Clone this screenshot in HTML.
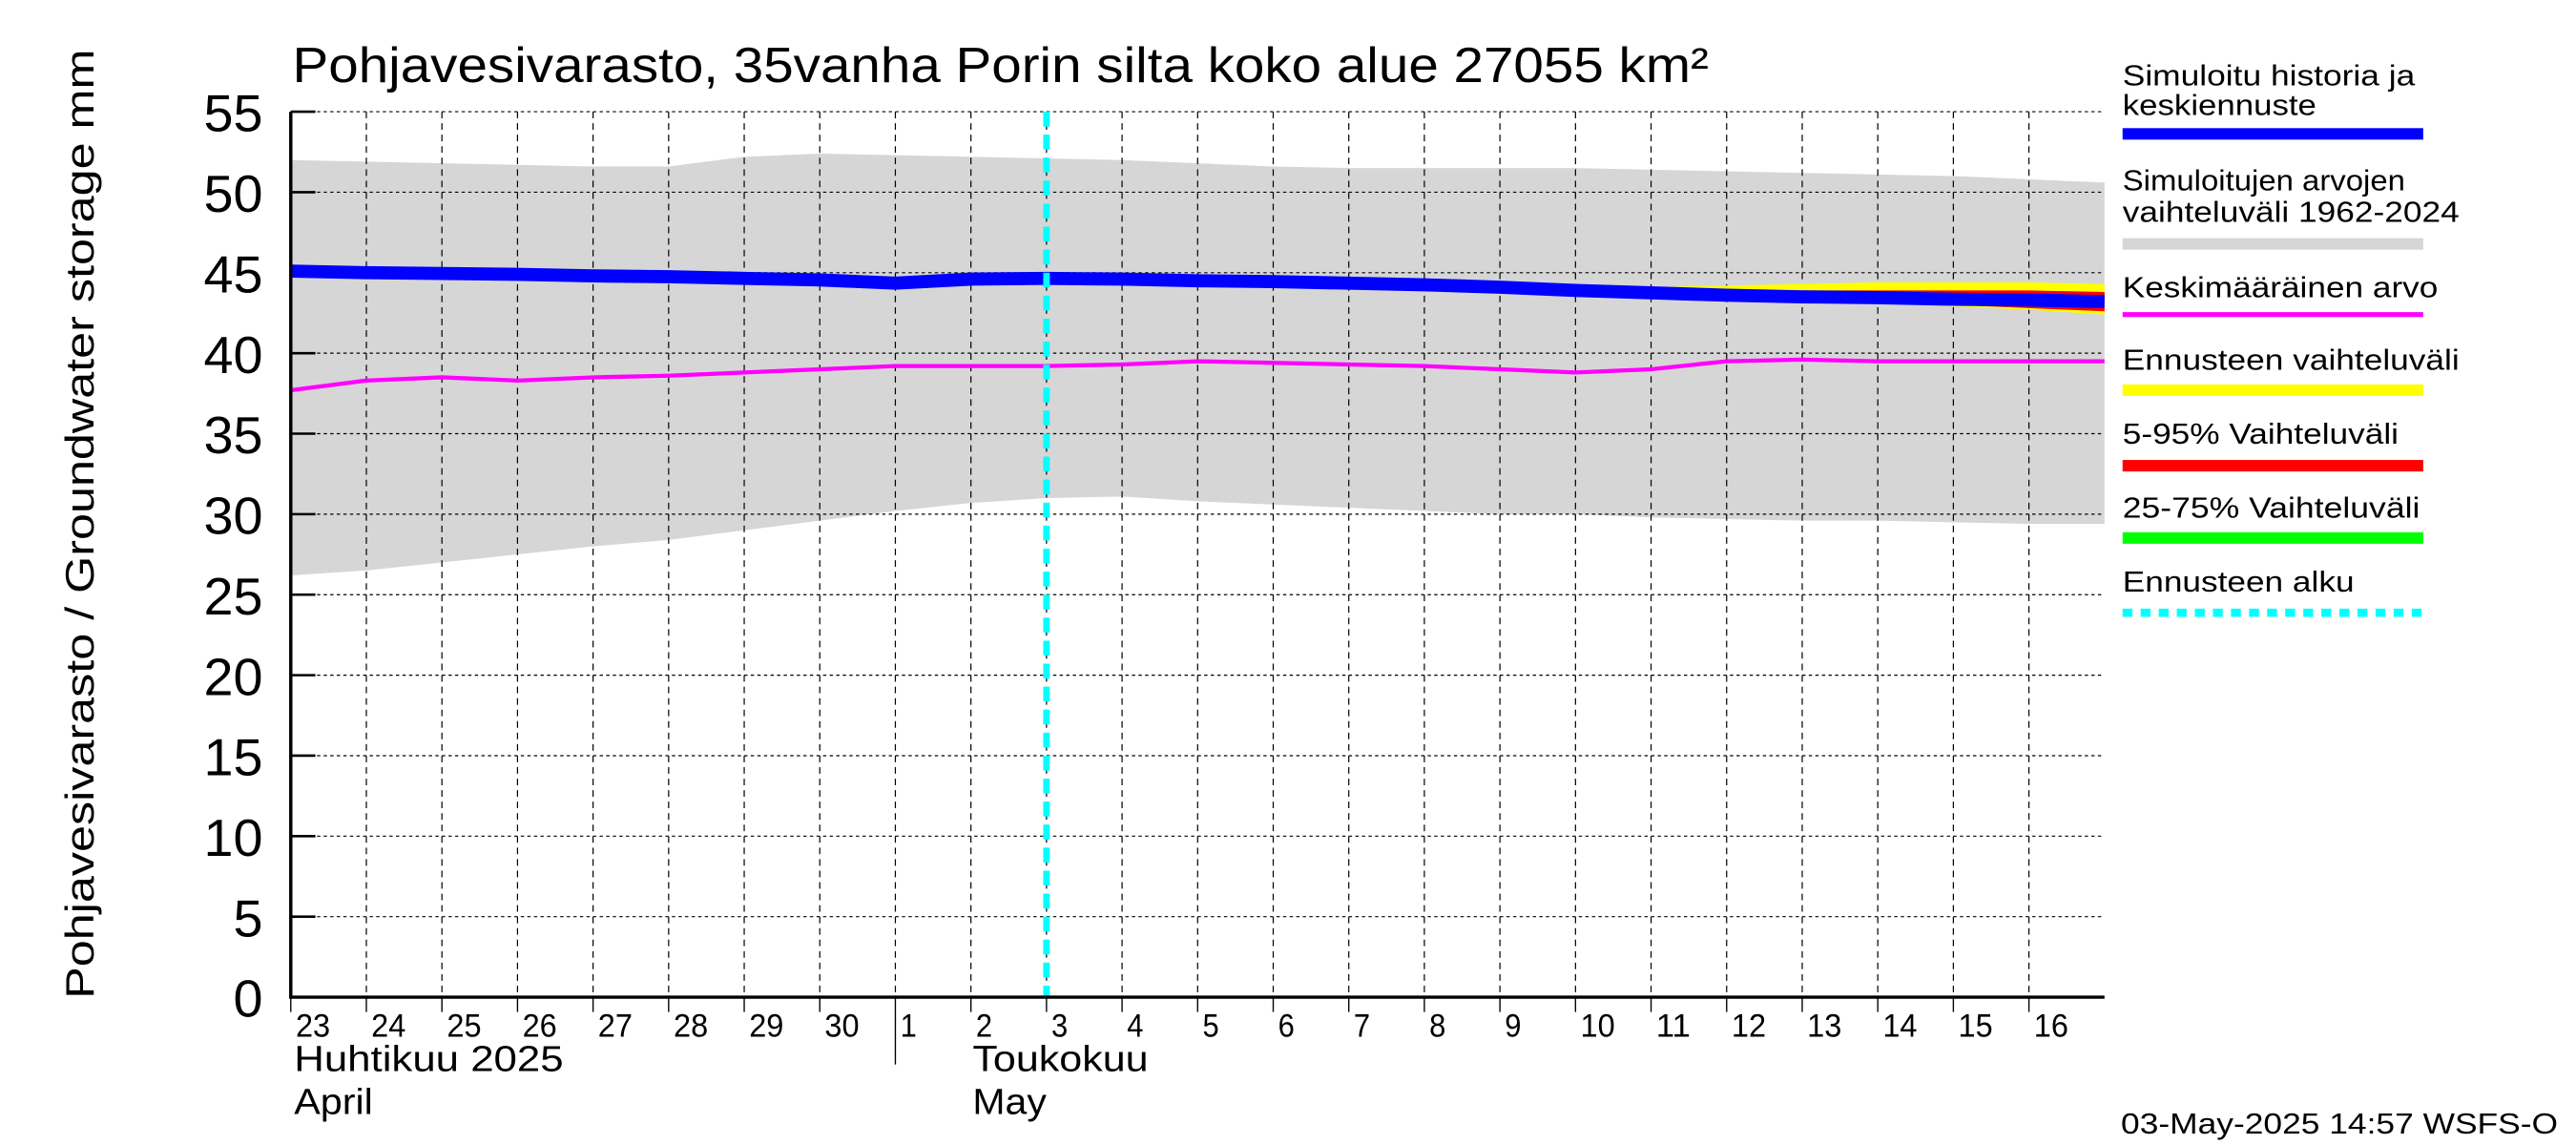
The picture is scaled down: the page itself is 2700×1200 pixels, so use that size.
<!DOCTYPE html>
<html><head><meta charset="utf-8"><style>
html,body{margin:0;padding:0;background:#fff;}
svg{display:block;}
text{font-family:"Liberation Sans",sans-serif;fill:#000;}
</style></head><body>
<svg id="chart" width="2700" height="1200" viewBox="0 0 1568 697" preserveAspectRatio="none" xmlns="http://www.w3.org/2000/svg">
<g id="plot"></g>
<text x="178" y="50" font-size="30" textLength="862" lengthAdjust="spacingAndGlyphs">Pohjavesivarasto, 35vanha Porin silta koko alue 27055 km²</text>
<text transform="translate(57,608) rotate(-90)" font-size="24" textLength="578" lengthAdjust="spacingAndGlyphs">Pohjavesivarasto / Groundwater storage   mm</text>
<text x="179" y="652" font-size="22" textLength="164" lengthAdjust="spacingAndGlyphs">Huhtikuu  2025</text>
<text x="179" y="678" font-size="22" textLength="48" lengthAdjust="spacingAndGlyphs">April</text>
<text x="592" y="652" font-size="22" textLength="107" lengthAdjust="spacingAndGlyphs">Toukokuu</text>
<text x="592" y="678" font-size="22" textLength="45" lengthAdjust="spacingAndGlyphs">May</text>
<text x="1291" y="690" font-size="18" textLength="266" lengthAdjust="spacingAndGlyphs">03-May-2025 14:57 WSFS-O</text>
<g>
<text x="1292" y="52" font-size="18" textLength="178" lengthAdjust="spacingAndGlyphs">Simuloitu historia ja</text>
<text x="1292" y="70" font-size="18" textLength="118" lengthAdjust="spacingAndGlyphs">keskiennuste</text>
<rect x="1292" y="78" width="183" height="7" fill="#0000ff"/>
<text x="1292" y="116" font-size="18" textLength="172" lengthAdjust="spacingAndGlyphs">Simuloitujen arvojen</text>
<text x="1292" y="135" font-size="18" textLength="205" lengthAdjust="spacingAndGlyphs">vaihteluväli 1962-2024</text>
<rect x="1292" y="145" width="183" height="7" fill="#d6d6d6"/>
<text x="1292" y="181" font-size="18" textLength="192" lengthAdjust="spacingAndGlyphs">Keskimääräinen arvo</text>
<rect x="1292" y="190" width="183" height="3" fill="#ff00ff"/>
<text x="1292" y="225" font-size="18" textLength="205" lengthAdjust="spacingAndGlyphs">Ennusteen vaihteluväli</text>
<rect x="1292" y="234" width="183" height="7" fill="#ffff00"/>
<text x="1292" y="270" font-size="18" textLength="168" lengthAdjust="spacingAndGlyphs">5-95% Vaihteluväli</text>
<rect x="1292" y="280" width="183" height="7" fill="#ff0000"/>
<text x="1292" y="315" font-size="18" textLength="181" lengthAdjust="spacingAndGlyphs">25-75% Vaihteluväli</text>
<rect x="1292" y="324" width="183" height="7" fill="#00ff00"/>
<text x="1292" y="360" font-size="18" textLength="141" lengthAdjust="spacingAndGlyphs">Ennusteen alku</text>
<line x1="1292" y1="373" x2="1475" y2="373" stroke="#00ffff" stroke-width="5" stroke-dasharray="6,5"/>
</g>
</svg>
<script>
const dayLabels=["23","24","25","26","27","28","29","30","1","2","3","4","5","6","7","8","9","10","11","12","13","14","15","16"];
const yTicks=[0,5,10,15,20,25,30,35,40,45,50,55];
const rangeUpper=[52.0,51.9,51.8,51.7,51.6,51.6,52.2,52.4,52.3,52.2,52.1,52.0,51.8,51.6,51.5,51.5,51.5,51.5,51.4,51.3,51.2,51.1,51.0,50.8,50.6];
const rangeLower=[26.2,26.5,27.0,27.5,28.0,28.4,29.0,29.6,30.2,30.7,31.0,31.1,30.8,30.6,30.4,30.2,30.0,30.0,29.8,29.7,29.6,29.6,29.5,29.4,29.4];
const simulated=[45.1,45.0,44.95,44.9,44.8,44.75,44.65,44.55,44.35,44.6,44.65,44.6,44.5,44.45,44.35,44.25,44.1,43.9,43.75,43.6,43.5,43.45,43.35,43.3,43.2];
const meanValues=[37.7,38.3,38.5,38.3,38.5,38.6,38.8,39.0,39.2,39.2,39.2,39.3,39.5,39.4,39.3,39.2,39.0,38.8,39.0,39.5,39.6,39.5,39.5,39.5,39.5];
const fcDays=[17,18,19,20,21,22,23,24];
const fcMaxVals=[44.0,44.1,44.2,44.3,44.4,44.4,44.4,44.3];
const fcMinVals=[43.8,43.6,43.4,43.3,43.1,42.9,42.7,42.4];
const fc95Vals=[43.9,43.9,43.9,43.9,43.9,43.9,43.9,43.8];
const fc5Vals=[43.8,43.6,43.45,43.3,43.2,43.0,42.8,42.6];
const forecastStart=10;
const X0=177,X1=1281,Y0=607,Y1=68,ND=24;
const xs=d=>X0+d*(X1-X0)/ND;
const ys=v=>Y0-v*(Y0-Y1)/55;
const NS="http://www.w3.org/2000/svg";
const plot=document.getElementById('plot');
function mk(tag,attrs){const e=document.createElementNS(NS,tag);for(const k in attrs)e.setAttribute(k,attrs[k]);plot.appendChild(e);return e;}
function band(xsArr,up,lo){let p=xsArr.map((d,i)=>xs(d)+','+ys(up[i]));for(let i=xsArr.length-1;i>=0;i--)p.push(xs(xsArr[i])+','+ys(lo[i]));return p.join(' ');}
const allDays=rangeUpper.map((_,i)=>i);
let e=mk('polygon',{points:band(allDays,rangeUpper,rangeLower),fill:'#d6d6d6'});


for(let i=1;i<ND;i++){
 e=mk('line',{x1:xs(i),y1:Y1,x2:xs(i),y2:Y0,stroke:'#000','stroke-width':0.7,'stroke-dasharray':'4,3'});
 
 
}
yTicks.forEach(t=>{
 if(t>0){e=mk('line',{x1:X0,y1:ys(t),x2:X1,y2:ys(t),stroke:'#000','stroke-width':0.7,'stroke-dasharray':'2,2'});
 
 }
 e=mk('line',{x1:X0,y1:ys(t),x2:X0+15,y2:ys(t),stroke:'#000','stroke-width':1.5});
 
 
 e=mk('text',{x:160,y:ys(t)+12,'font-size':32,'text-anchor':'end',textLength:t<10?18:36,lengthAdjust:'spacingAndGlyphs'});
 e.textContent=t;
 
 
});
e=mk('polygon',{points:band(fcDays,fcMaxVals,fcMinVals),fill:'#ffff00'});


e=mk('polygon',{points:band(fcDays,fc95Vals,fc5Vals),fill:'#ff0000'});


e=mk('polyline',{points:simulated.map((v,i)=>xs(i)+','+ys(v)).join(' '),fill:'none',stroke:'#0000ff','stroke-width':8});


e=mk('polyline',{points:meanValues.map((v,i)=>xs(i)+','+ys(v)).join(' '),fill:'none',stroke:'#ff00ff','stroke-width':2.5});


e=mk('line',{x1:xs(forecastStart),y1:Y1,x2:xs(forecastStart),y2:Y0,stroke:'#00ffff','stroke-width':4,'stroke-dasharray':'9,5'});


e=mk('polyline',{points:`${X0},${Y1} ${X0},${Y0} ${X1},${Y0}`,fill:'none',stroke:'#000','stroke-width':2});


dayLabels.forEach((l,i)=>{
 const long=(l==="1");
 e=mk('line',{x1:xs(i),y1:Y0,x2:xs(i),y2:long?648:616,stroke:'#000','stroke-width':0.8});
 
 
 e=mk('text',{x:xs(i)+3,y:631,'font-size':20,textLength:l.length>1?21:10,lengthAdjust:'spacingAndGlyphs'});
 e.textContent=l;
 
 
});
</script>
</body></html>
